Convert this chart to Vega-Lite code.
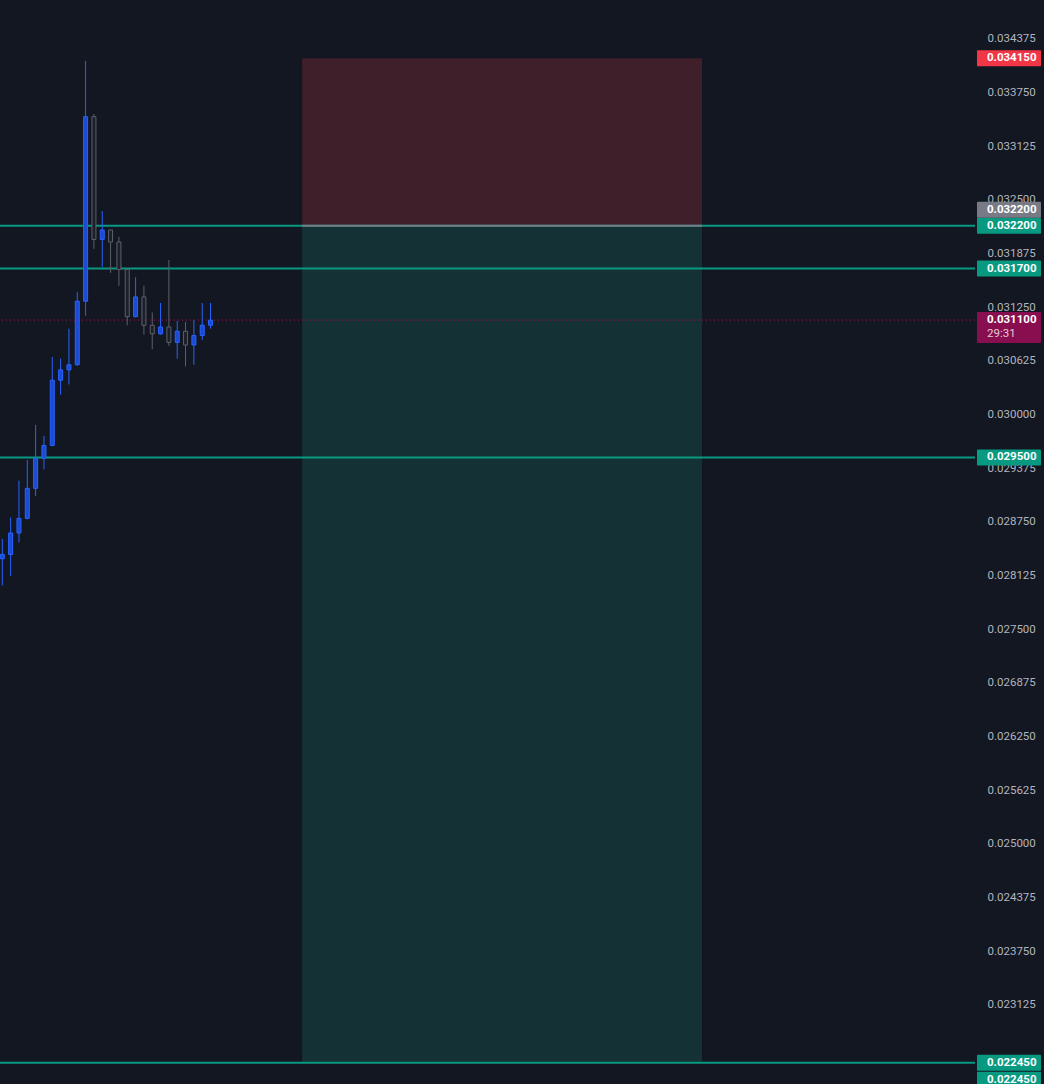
{
  "$schema": "https://vega.github.io/schema/vega-lite/v6.json",
  "width": 975,
  "height": 1084,
  "autosize": {"type": "none"},
  "padding": {"left": 0, "top": 0, "right": 69, "bottom": 0},
  "background": "#131722",
  "config": {"view": {"stroke": null}},
  "resolve": {"axis": {"y": "independent", "x": "independent"}},
  "datasets": {
    "candles": [
      {"i": 0, "o": 0.02832, "h": 0.02855, "l": 0.02801, "c": 0.02837},
      {"i": 1, "o": 0.02837, "h": 0.02880, "l": 0.02812, "c": 0.02862},
      {"i": 2, "o": 0.02862, "h": 0.02923, "l": 0.02851, "c": 0.02879},
      {"i": 3, "o": 0.02879, "h": 0.02947, "l": 0.02878, "c": 0.02914},
      {"i": 4, "o": 0.02914, "h": 0.02988, "l": 0.02905, "c": 0.02949},
      {"i": 5, "o": 0.02949, "h": 0.02975, "l": 0.02936, "c": 0.02964},
      {"i": 6, "o": 0.02964, "h": 0.03067, "l": 0.02963, "c": 0.03040},
      {"i": 7, "o": 0.03040, "h": 0.03065, "l": 0.03023, "c": 0.03052},
      {"i": 8, "o": 0.03052, "h": 0.03100, "l": 0.03035, "c": 0.03058},
      {"i": 9, "o": 0.03058, "h": 0.03143, "l": 0.03057, "c": 0.03132},
      {"i": 10, "o": 0.03132, "h": 0.03412, "l": 0.03115, "c": 0.03347},
      {"i": 11, "o": 0.03347, "h": 0.03350, "l": 0.03193, "c": 0.03204},
      {"i": 12, "o": 0.03204, "h": 0.03237, "l": 0.03172, "c": 0.03215},
      {"i": 13, "o": 0.03215, "h": 0.03215, "l": 0.03165, "c": 0.03201},
      {"i": 14, "o": 0.03201, "h": 0.03207, "l": 0.03150, "c": 0.03169},
      {"i": 15, "o": 0.03169, "h": 0.03169, "l": 0.03104, "c": 0.03114},
      {"i": 16, "o": 0.03114, "h": 0.03160, "l": 0.03113, "c": 0.03137},
      {"i": 17, "o": 0.03137, "h": 0.03150, "l": 0.03093, "c": 0.03104},
      {"i": 18, "o": 0.03104, "h": 0.03119, "l": 0.03076, "c": 0.03094},
      {"i": 19, "o": 0.03094, "h": 0.03130, "l": 0.03093, "c": 0.03102},
      {"i": 20, "o": 0.03102, "h": 0.03180, "l": 0.03080, "c": 0.03084},
      {"i": 21, "o": 0.03084, "h": 0.03109, "l": 0.03065, "c": 0.03097},
      {"i": 22, "o": 0.03097, "h": 0.03108, "l": 0.03056, "c": 0.03081},
      {"i": 23, "o": 0.03081, "h": 0.03110, "l": 0.03058, "c": 0.03092},
      {"i": 24, "o": 0.03092, "h": 0.03130, "l": 0.03087, "c": 0.03104},
      {"i": 25, "o": 0.03104, "h": 0.03130, "l": 0.03100, "c": 0.03110}
    ],
    "levels": [
      {"p": 0.0322},
      {"p": 0.0317},
      {"p": 0.0295},
      {"p": 0.02245}
    ],
    "labels": [
      {"p": 0.03415, "t": "0.034150", "k": "stop", "s": "main"},
      {"p": 0.0322, "t": "0.032200", "k": "entry", "s": "up"},
      {"p": 0.0322, "t": "0.032200", "k": "level", "s": "main"},
      {"p": 0.0317, "t": "0.031700", "k": "level", "s": "main"},
      {"p": 0.0295, "t": "0.029500", "k": "level", "s": "main"},
      {"p": 0.02245, "t": "0.022450", "k": "level", "s": "main"},
      {"p": 0.02245, "t": "0.022450", "k": "level", "s": "down"},
      {"p": 0.0311, "t": "0.031100", "k": "last", "s": "last"},
      {"p": 0.0311, "t": "29:31", "k": "last", "s": "count"}
    ]
  },
  "layer": [
    {
      "data": {"values": [{"a": 36, "b": 84, "top": 0.0322, "bot": 0.02245}]},
      "mark": {"type": "rect", "fill": "#143236"},
      "encoding": {
        "x": {"field": "a", "type": "quantitative", "scale": {"domain": [-0.276, 116.77], "nice": false, "zero": false, "padding": 0}, "axis": null},
        "x2": {"field": "b"},
        "y": {"field": "top", "type": "quantitative", "scale": {"domain": [0.022201, 0.034829], "nice": false, "zero": false, "padding": 0},
          "axis": {"orient": "right", "values": [0.023125, 0.02375, 0.024375, 0.025, 0.025625, 0.02625, 0.026875, 0.0275, 0.028125, 0.02875, 0.029375, 0.03, 0.030625, 0.03125, 0.031875, 0.0325, 0.033125, 0.03375, 0.034375],
            "format": ".6f", "labelColor": "#b2b5be", "labelFont": "Roboto", "labelFontSize": 11.5, "labelPadding": 12, "ticks": false, "domain": false, "grid": false, "title": null, "labelAlign": "left", "labelBaseline": "middle", "labelBound": false, "labelOverlap": false, "zindex": 0}},
        "y2": {"field": "bot"}
      }
    },
    {
      "data": {"values": [{"a": 36, "b": 84, "top": 0.03415, "bot": 0.0322}]},
      "mark": {"type": "rect", "fill": "#3f1f2a"},
      "encoding": {
        "x": {"field": "a", "type": "quantitative", "scale": {"domain": [-0.276, 116.77], "nice": false, "zero": false, "padding": 0}, "axis": null},
        "x2": {"field": "b"},
        "y": {"field": "top", "type": "quantitative", "scale": {"domain": [0.022201, 0.034829], "nice": false, "zero": false, "padding": 0}, "axis": null},
        "y2": {"field": "bot"}
      }
    },
    {
      "data": {"name": "levels"},
      "mark": {"type": "rule", "stroke": "#089981", "strokeWidth": 2},
      "encoding": {
        "y": {"field": "p", "type": "quantitative", "scale": {"domain": [0.022201, 0.034829], "nice": false, "zero": false, "padding": 0}, "axis": null}
      }
    },
    {
      "data": {"values": [{"a": 36, "b": 84, "p": 0.0322}]},
      "mark": {"type": "rule", "stroke": "#787b86", "strokeWidth": 2},
      "encoding": {
        "x": {"field": "a", "type": "quantitative", "scale": {"domain": [-0.276, 116.77], "nice": false, "zero": false, "padding": 0}, "axis": null},
        "x2": {"field": "b"},
        "y": {"field": "p", "type": "quantitative", "scale": {"domain": [0.022201, 0.034829], "nice": false, "zero": false, "padding": 0}, "axis": null}
      }
    },
    {
      "data": {"values": [{"p": 0.0311}]},
      "mark": {"type": "rule", "stroke": "#9c1b52", "strokeWidth": 1, "strokeDash": [1, 3]},
      "encoding": {
        "y": {"field": "p", "type": "quantitative", "scale": {"domain": [0.022201, 0.034829], "nice": false, "zero": false, "padding": 0}, "axis": null}
      }
    },
    {
      "data": {"name": "candles"},
      "mark": {"type": "rule", "strokeWidth": 1},
      "encoding": {
        "x": {"field": "i", "type": "quantitative", "scale": {"domain": [-0.276, 116.77], "nice": false, "zero": false, "padding": 0}, "axis": null},
        "y": {"field": "l", "type": "quantitative", "scale": {"domain": [0.022201, 0.034829], "nice": false, "zero": false, "padding": 0}, "axis": null},
        "y2": {"field": "h"},
        "stroke": {"condition": {"test": "datum.c >= datum.o", "value": "#2962ff"}, "value": "#5d606b"}
      }
    },
    {
      "data": {"name": "candles"},
      "mark": {"type": "bar", "width": 4, "strokeWidth": 1},
      "encoding": {
        "x": {"field": "i", "type": "quantitative", "scale": {"domain": [-0.276, 116.77], "nice": false, "zero": false, "padding": 0}, "axis": null},
        "y": {"field": "o", "type": "quantitative", "scale": {"domain": [0.022201, 0.034829], "nice": false, "zero": false, "padding": 0}, "axis": null},
        "y2": {"field": "c"},
        "fill": {"condition": {"test": "datum.c >= datum.o", "value": "#1a4bd0"}, "value": "#1c202b"},
        "stroke": {"condition": {"test": "datum.c >= datum.o", "value": "#2962ff"}, "value": "#5d606b"}
      }
    },
    {
      "data": {"name": "labels"},
      "transform": [{"filter": "datum.s === 'main'"}],
      "mark": {"type": "tick", "orient": "horizontal", "size": 64, "thickness": 16, "opacity": 1, "cornerRadius": 1},
      "encoding": {
        "x": {"datum": 120.85, "type": "quantitative", "scale": {"domain": [-0.276, 116.77], "nice": false, "zero": false, "padding": 0}, "axis": null},
        "y": {"field": "p", "type": "quantitative", "scale": {"domain": [0.022201, 0.034829], "nice": false, "zero": false, "padding": 0}, "axis": null},
        "color": {"field": "k", "type": "nominal", "scale": {"domain": ["stop", "entry", "level", "last"], "range": ["#f23645", "#787b86", "#089981", "#880e4f"]}, "legend": null}
      }
    },
    {
      "data": {"name": "labels"},
      "transform": [{"filter": "datum.s === 'up'"}],
      "mark": {"type": "tick", "orient": "horizontal", "size": 64, "thickness": 16, "opacity": 1, "yOffset": -16, "cornerRadius": 1},
      "encoding": {
        "x": {"datum": 120.85, "type": "quantitative", "scale": {"domain": [-0.276, 116.77], "nice": false, "zero": false, "padding": 0}, "axis": null},
        "y": {"field": "p", "type": "quantitative", "scale": {"domain": [0.022201, 0.034829], "nice": false, "zero": false, "padding": 0}, "axis": null},
        "color": {"field": "k", "type": "nominal", "scale": {"domain": ["stop", "entry", "level", "last"], "range": ["#f23645", "#787b86", "#089981", "#880e4f"]}, "legend": null}
      }
    },
    {
      "data": {"name": "labels"},
      "transform": [{"filter": "datum.s === 'down'"}],
      "mark": {"type": "tick", "orient": "horizontal", "size": 64, "thickness": 16, "opacity": 1, "yOffset": 17, "cornerRadius": 1},
      "encoding": {
        "x": {"datum": 120.85, "type": "quantitative", "scale": {"domain": [-0.276, 116.77], "nice": false, "zero": false, "padding": 0}, "axis": null},
        "y": {"field": "p", "type": "quantitative", "scale": {"domain": [0.022201, 0.034829], "nice": false, "zero": false, "padding": 0}, "axis": null},
        "color": {"field": "k", "type": "nominal", "scale": {"domain": ["stop", "entry", "level", "last"], "range": ["#f23645", "#787b86", "#089981", "#880e4f"]}, "legend": null}
      }
    },
    {
      "data": {"name": "labels"},
      "transform": [{"filter": "datum.s === 'last'"}],
      "mark": {"type": "tick", "orient": "horizontal", "size": 64, "thickness": 31, "opacity": 1, "yOffset": 7.5, "cornerRadius": 1},
      "encoding": {
        "x": {"datum": 120.85, "type": "quantitative", "scale": {"domain": [-0.276, 116.77], "nice": false, "zero": false, "padding": 0}, "axis": null},
        "y": {"field": "p", "type": "quantitative", "scale": {"domain": [0.022201, 0.034829], "nice": false, "zero": false, "padding": 0}, "axis": null},
        "color": {"field": "k", "type": "nominal", "scale": {"domain": ["stop", "entry", "level", "last"], "range": ["#f23645", "#787b86", "#089981", "#880e4f"]}, "legend": null}
      }
    },
    {
      "data": {"name": "labels"},
      "transform": [{"filter": "datum.s === 'main' || datum.s === 'last'"}],
      "mark": {"type": "text", "align": "left", "baseline": "middle", "font": "Roboto", "fontSize": 11.5, "fontWeight": "bold", "fill": "#ffffff"},
      "encoding": {
        "x": {"datum": 118.21, "type": "quantitative", "scale": {"domain": [-0.276, 116.77], "nice": false, "zero": false, "padding": 0}, "axis": null},
        "y": {"field": "p", "type": "quantitative", "scale": {"domain": [0.022201, 0.034829], "nice": false, "zero": false, "padding": 0}, "axis": null},
        "text": {"field": "t"}
      }
    },
    {
      "data": {"name": "labels"},
      "transform": [{"filter": "datum.s === 'up'"}],
      "mark": {"type": "text", "align": "left", "baseline": "middle", "font": "Roboto", "fontSize": 11.5, "fontWeight": "bold", "fill": "#ffffff", "dy": -16},
      "encoding": {
        "x": {"datum": 118.21, "type": "quantitative", "scale": {"domain": [-0.276, 116.77], "nice": false, "zero": false, "padding": 0}, "axis": null},
        "y": {"field": "p", "type": "quantitative", "scale": {"domain": [0.022201, 0.034829], "nice": false, "zero": false, "padding": 0}, "axis": null},
        "text": {"field": "t"}
      }
    },
    {
      "data": {"name": "labels"},
      "transform": [{"filter": "datum.s === 'down'"}],
      "mark": {"type": "text", "align": "left", "baseline": "middle", "font": "Roboto", "fontSize": 11.5, "fontWeight": "bold", "fill": "#ffffff", "dy": 17},
      "encoding": {
        "x": {"datum": 118.21, "type": "quantitative", "scale": {"domain": [-0.276, 116.77], "nice": false, "zero": false, "padding": 0}, "axis": null},
        "y": {"field": "p", "type": "quantitative", "scale": {"domain": [0.022201, 0.034829], "nice": false, "zero": false, "padding": 0}, "axis": null},
        "text": {"field": "t"}
      }
    },
    {
      "data": {"name": "labels"},
      "transform": [{"filter": "datum.s === 'count'"}],
      "mark": {"type": "text", "align": "left", "baseline": "middle", "font": "Roboto", "fontSize": 11.5, "fill": "#e6c9d6", "dy": 14},
      "encoding": {
        "x": {"datum": 118.21, "type": "quantitative", "scale": {"domain": [-0.276, 116.77], "nice": false, "zero": false, "padding": 0}, "axis": null},
        "y": {"field": "p", "type": "quantitative", "scale": {"domain": [0.022201, 0.034829], "nice": false, "zero": false, "padding": 0}, "axis": null},
        "text": {"field": "t"}
      }
    }
  ]
}
